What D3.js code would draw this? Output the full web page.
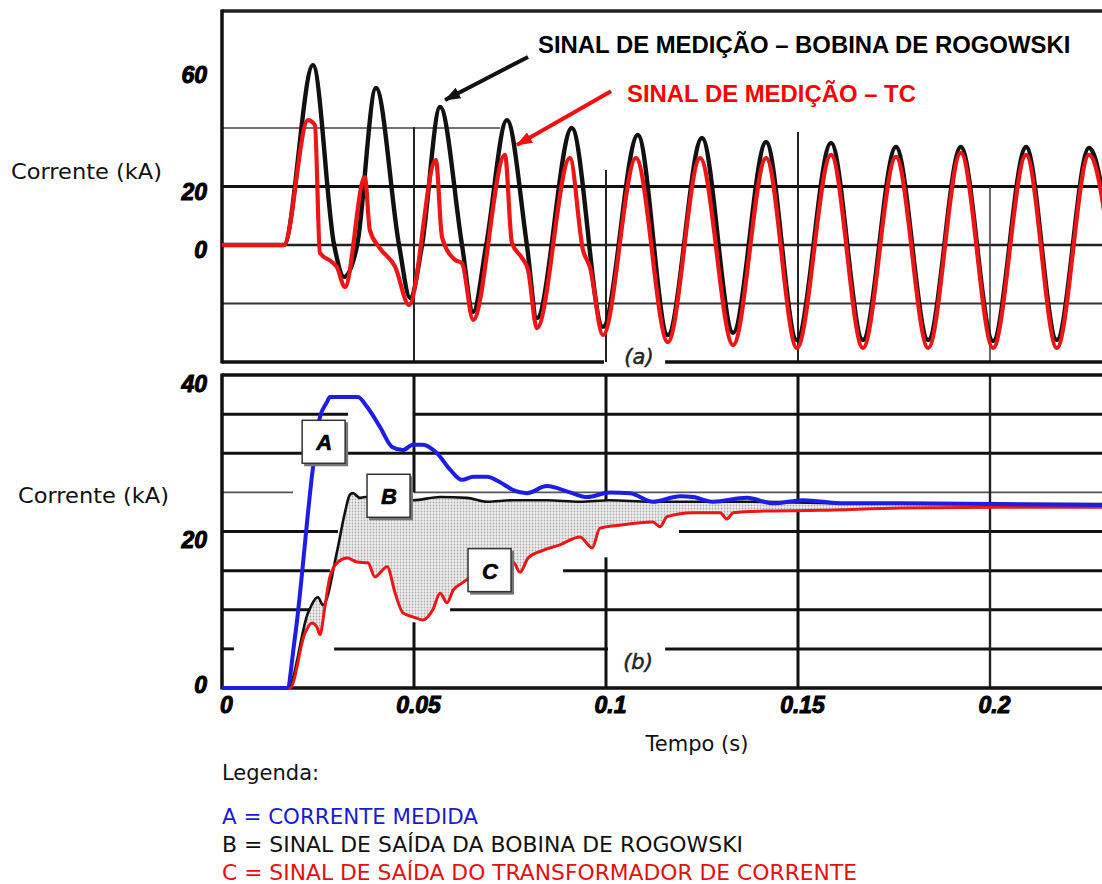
<!DOCTYPE html>
<meta charset="utf-8">
<style>

body {
  margin: 0;
  background: #fff;
}

.tick text {
  font: italic bold 23px "Liberation Sans", sans-serif;
  fill: #000;
  stroke: #000;
  stroke-width: 1px;
}

.title {
  font: 21px "DejaVu Sans", sans-serif;
  fill: #111;
}

.note {
  font: bold 23.9px "Liberation Sans", sans-serif;
}

.panel-tag {
  font: italic 21px "DejaVu Sans", sans-serif;
  fill: #222;
  stroke: #222;
  stroke-width: 0.5px;
}

.box-label {
  font: italic bold 22px "Liberation Sans", sans-serif;
  text-anchor: middle;
  stroke: #000;
  stroke-width: 0.6px;
}

</style>
<body>
<script src="https://cdn.jsdelivr.net/npm/d3@7"></script>
<script>

// (a) sinal de medição, kA vs s
var rogowskiTop = [
  [0, 0], [0.0161, 0], [0.0237, 61.5], [0.0292, 0], [0.0318, -10.9], [0.0352, 0],
  [0.0401, 53.7], [0.0461, 0], [0.0490, -18.1], [0.0521, 0], [0.0568, 47.2], [0.0625, 0],
  [0.0654, -22.9], [0.0688, 0], [0.0742, 42.7], [0.0794, 0], [0.0820, -25], [0.0911, 40],
  [0.0992, -28], [0.1083, 37.6], [0.1161, -30.8], [0.1250, 36.6], [0.1331, -30],
  [0.1417, 35.2], [0.1497, -32.5], [0.1586, 34.9], [0.1669, -32.5], [0.1755, 33.5],
  [0.1839, -32.5], [0.1924, 33.5], [0.2008, -32.8], [0.2094, 33.5], [0.2174, -32.5],
  [0.2258, 33.2], [0.2339, -32.5]
];

var tcTop = [
  [0, 0], [0.0161, 0], [0.0224, 42.7], [0.0242, 41], [0.0255, -2.7], [0.0286, -5.8],
  [0.0299, -7.5], [0.0320, -14.4], [0.0372, 23.2], [0.0385, 5.1], [0.0409, -0.7],
  [0.0451, -7.5], [0.0487, -20.5], [0.0557, 29], [0.0573, 2.7], [0.0607, -5.1],
  [0.0625, -6.2], [0.0654, -25.6], [0.0737, 30.8], [0.0755, 0.7], [0.0781, -4.4],
  [0.0797, -8.5], [0.0820, -28.4], [0.0906, 29.7], [0.0940, -1.7], [0.0958, -7.5],
  [0.0992, -30.8], [0.1078, 29.7], [0.1161, -33.2], [0.1245, 29.7], [0.1331, -34.2],
  [0.1417, 29.7], [0.1497, -35.2], [0.1586, 30.8], [0.1669, -35.2], [0.1755, 30.1],
  [0.1839, -35.2], [0.1924, 31.5], [0.2008, -35.2], [0.2094, 30.8], [0.2174, -35.2],
  [0.2258, 30.8], [0.2339, -35]
];

// (b) valores eficazes
var medidaBottom = [
  [0, 0], [0.0169, 0], [0.0190, 6.5], [0.0237, 28.2], [0.0255, 34.6], [0.0273, 36.5],
  [0.0281, 37.2], [0.0354, 37.2], [0.0378, 35.9], [0.0411, 33.4], [0.0443, 30.8],
  [0.0471, 30.4], [0.0497, 31.1], [0.0523, 31.1], [0.0560, 30.0], [0.0594, 27.9],
  [0.0625, 26.6], [0.0654, 27.0], [0.0690, 27.0], [0.0724, 26.3], [0.0758, 25.3],
  [0.0794, 24.9], [0.0846, 25.8], [0.0906, 25.0], [0.0951, 24.4], [0.1010, 25.0],
  [0.1063, 24.9], [0.1122, 23.8], [0.1193, 24.5], [0.1227, 24.4], [0.1279, 23.8],
  [0.1367, 24.3], [0.1435, 23.6], [0.1513, 24.0], [0.1620, 23.6], [0.1766, 23.6],
  [0.2026, 23.5], [0.2292, 23.4]
];

var rogowskiBottom = [
  [0, 0], [0.0172, 0], [0.0224, 9.6], [0.0250, 11.6], [0.0263, 10.6], [0.0299, 17.3],
  [0.0320, 22.4], [0.0333, 24.7], [0.0341, 24.9], [0.0359, 24.3], [0.0372, 24.4],
  [0.0497, 24.0], [0.0568, 24.4], [0.0638, 24.3], [0.0690, 23.8], [0.0758, 24.0],
  [0.0846, 24.0], [0.0932, 23.8], [0.1010, 24.0], [0.1115, 23.8], [0.1375, 23.8],
  [0.1635, 23.6], [0.2026, 23.5], [0.2292, 23.5]
];

var tcBottom = [
  [0, 0], [0.0177, 0], [0.0216, 7.0], [0.0234, 8.3], [0.0247, 7.8], [0.0255, 6.8],
  [0.0268, 10.4], [0.0281, 14.2], [0.0302, 16.1], [0.0326, 16.6], [0.0352, 16.1],
  [0.0380, 16.0], [0.0398, 14.2], [0.0430, 15.5], [0.0451, 12.1], [0.0471, 9.6],
  [0.0497, 9.1], [0.0523, 8.7], [0.0549, 10.0], [0.0568, 12.1], [0.0586, 10.9],
  [0.0602, 12.5], [0.0625, 13.4], [0.0758, 16.1], [0.0776, 14.8], [0.0797, 16.6],
  [0.0836, 17.6], [0.0880, 18.3], [0.0932, 19.3], [0.0964, 17.9], [0.0984, 20.4],
  [0.1036, 20.8], [0.1122, 21.2], [0.1141, 20.6], [0.1159, 21.9], [0.1227, 22.4],
  [0.1297, 22.4], [0.1315, 21.6], [0.1331, 22.4], [0.1401, 22.6], [0.1557, 22.7],
  [0.1766, 23.0], [0.2026, 23.1], [0.2292, 23.1]
];

var yTicksTop = [0, 20, 60];
var yTicksBottom = [0, 20, 40];
var xTicks = [0, 0.05, 0.1, 0.15, 0.2];
var xTickLabels = ["0", "0.05", "0.1", "0.15", "0.2"];

var legendLabels = [
  "A = CORRENTE MEDIDA",
  "B = SINAL DE SAÍDA DA BOBINA DE ROGOWSKI",
  "C = SINAL DE SAÍDA DO TRANSFORMADOR DE CORRENTE"
];
var boxLetters = ["A", "B", "C"];

var blue = "#1d1de6",
    red = "#ec1616",
    black = "#111";

var x = d3.scaleLinear().domain([0, 0.25]).range([222, 1182]);
var yTop = d3.scaleLinear().domain([-40, 80]).range([362, 11]);
var yBot = d3.scaleLinear().domain([0, 40]).range([688, 375]);

var svg = d3.select("body").append("svg")
    .attr("width", 1102)
    .attr("height", 884);

var defs = svg.append("defs");

var dots = defs.append("pattern")
    .attr("id", "dots")
    .attr("width", 3)
    .attr("height", 3)
    .attr("patternUnits", "userSpaceOnUse");
dots.append("rect").attr("width", 3).attr("height", 3).attr("fill", "#eeeeee");
dots.append("circle").attr("cx", 1.5).attr("cy", 1.5).attr("r", 0.9).attr("fill", "#acacac");

[["arrowBlack", black], ["arrowRed", "#f01010"]].forEach(function(m) {
  defs.append("marker")
      .attr("id", m[0])
      .attr("markerUnits", "userSpaceOnUse")
      .attr("viewBox", "0 0 16 12")
      .attr("refX", 15)
      .attr("refY", 6)
      .attr("markerWidth", 16)
      .attr("markerHeight", 12)
      .attr("orient", "auto")
    .append("path")
      .attr("d", "M0,0L16,6L0,12Z")
      .attr("fill", m[1]);
});

// ---------- grid ----------
var grid = svg.append("g").attr("stroke-linecap", "butt");

function hline(scale, v, segs, w, c) {
  segs.forEach(function(s) {
    grid.append("line")
        .attr("x1", x(s[0])).attr("x2", x(s[1]))
        .attr("y1", scale(v)).attr("y2", scale(v))
        .attr("stroke", c).attr("stroke-width", w);
  });
}

function vline(scale, t, segs, w, c) {
  segs.forEach(function(s) {
    grid.append("line")
        .attr("x1", x(t)).attr("x2", x(t))
        .attr("y1", scale(s[0])).attr("y2", scale(s[1]))
        .attr("stroke", c).attr("stroke-width", w);
  });
}

var full = [[0, 0.25]];

// top panel
hline(yTop, 40, [[0, 0.0724]], 1.6, "#444");
hline(yTop, 20, full, 3.2, black);
hline(yTop, 0, full, 2.4, "#222");
hline(yTop, -20, full, 1.8, "#333");
vline(yTop, 0.05, [[-40, 40.3]], 2, "#222");
vline(yTop, 0.1, [[-40, 25.6]], 2, "#222");
vline(yTop, 0.15, [[-40, 38.6]], 2, "#222");
vline(yTop, 0.2, [[-40, 19.8]], 1.6, "#444");
hline(yTop, 80, full, 3.5, "#222");
hline(yTop, -40, [[0, 0.0995], [0.1154, 0.25]], 3.5, "#111");

// bottom panel
hline(yBot, 35, [[0, 0.0328], [0.0497, 0.25]], 3, black);
hline(yBot, 30, full, 3, black);
hline(yBot, 25, [[0, 0.0185], [0.05, 0.25]], 1.6, "#555");
hline(yBot, 20, [[0, 0.0302], [0.119, 0.25]], 3, black);
hline(yBot, 15, [[0, 0.0281], [0.0888, 0.25]], 3, black);
hline(yBot, 10, [[0, 0.0242], [0.0594, 0.25]], 3, black);
hline(yBot, 5, [[0, 0.0031], [0.0292, 0.1005], [0.1154, 0.25]], 3, black);
vline(yBot, 0.05, [[25, 40], [0, 8.4]], 3, black);
vline(yBot, 0.1, [[23.6, 40], [0, 16.7]], 3, black);
vline(yBot, 0.15, [[0, 40]], 3, black);
vline(yBot, 0.2, [[0, 40]], 2.4, "#222");
hline(yBot, 40, full, 3.5, "#111");
hline(yBot, 0, full, 3.5, "#111");

// frames on the left
grid.append("line").attr("x1", 222).attr("x2", 222)
    .attr("y1", yTop(80) - 1.5).attr("y2", yTop(-40) + 1.5)
    .attr("stroke", "#111").attr("stroke-width", 3.5);
grid.append("line").attr("x1", 222).attr("x2", 222)
    .attr("y1", yBot(40) - 1.5).attr("y2", yBot(0) + 1.5)
    .attr("stroke", "#111").attr("stroke-width", 3.5);

// ---------- curves ----------
var lineTop = d3.line()
    .x(function(d) { return x(d[0]); })
    .y(function(d) { return yTop(d[1]); })
    .curve(d3.curveMonotoneX);

var lineBot = d3.line()
    .x(function(d) { return x(d[0]); })
    .y(function(d) { return yBot(d[1]); })
    .curve(d3.curveMonotoneX);

svg.append("path")
    .attr("d", lineTop(rogowskiTop))
    .attr("fill", "none").attr("stroke", black).attr("stroke-width", 4.4)
    .attr("stroke-linejoin", "round");

svg.append("path")
    .attr("d", lineTop(tcTop))
    .attr("fill", "none").attr("stroke", red).attr("stroke-width", 4.2)
    .attr("stroke-linejoin", "round");

// shaded region between B and C
var between = rogowskiBottom.filter(function(d) { return d[0] >= 0.0172; })
    .concat(tcBottom.filter(function(d) { return d[0] >= 0.0177; }).reverse());

svg.append("path")
    .attr("d", d3.line()
        .x(function(d) { return x(d[0]); })
        .y(function(d) { return yBot(d[1]); })
        .curve(d3.curveLinearClosed)(between))
    .attr("fill", "url(#dots)");

svg.append("path")
    .attr("d", lineBot(rogowskiBottom))
    .attr("fill", "none").attr("stroke", black).attr("stroke-width", 2.6)
    .attr("stroke-linejoin", "round");

svg.append("path")
    .attr("d", lineBot(tcBottom))
    .attr("fill", "none").attr("stroke", red).attr("stroke-width", 3)
    .attr("stroke-linejoin", "round");

svg.append("path")
    .attr("d", lineBot(medidaBottom))
    .attr("fill", "none").attr("stroke", blue).attr("stroke-width", 4)
    .attr("stroke-linejoin", "round");

// A, B, C boxes
var boxAt = [[0.0266, 31.4], [0.0435, 24.5], [0.0698, 15.0]];
var box = svg.selectAll(".lbox")
    .data(boxLetters)
  .enter().append("g")
    .attr("class", "lbox")
    .attr("transform", function(d, i) {
      return "translate(" + x(boxAt[i][0]) + "," + yBot(boxAt[i][1]) + ")";
    });

box.append("rect")
    .attr("x", -20).attr("y", -20).attr("width", 44).attr("height", 44)
    .attr("fill", "#777");
box.append("rect")
    .attr("x", -22).attr("y", -22).attr("width", 43).attr("height", 43)
    .attr("fill", "#fff").attr("stroke", "#333").attr("stroke-width", 1.5);
box.append("text")
    .attr("class", "box-label")
    .attr("x", 0).attr("y", 8)
    .text(function(d) { return d; });

// ---------- axes ----------
function styleAxis(g) {
  g.select(".domain").remove();
  g.selectAll(".tick line").remove();
}

svg.append("g")
    .attr("transform", "translate(207,0)")
    .call(d3.axisLeft(yTop).tickValues(yTicksTop).tickSize(0).tickPadding(0))
    .call(styleAxis)
    .selectAll("text").attr("dy", "0.56em");

svg.append("g")
    .attr("transform", "translate(207,0)")
    .call(d3.axisLeft(yBot).tickValues(yTicksBottom).tickSize(0).tickPadding(0))
    .call(styleAxis)
    .selectAll("text").attr("dy", function(d) { return d === 0 ? "0.2em" : "0.7em"; });

svg.append("g")
    .attr("transform", "translate(4,697)")
    .call(d3.axisBottom(x).tickValues(xTicks).tickSize(0).tickPadding(0)
        .tickFormat(function(d, i) { return xTickLabels[i]; }))
    .call(styleAxis)
    .selectAll("text").attr("dy", "0.68em");

svg.append("text").attr("class", "title")
    .attr("x", 11).attr("y", 179)
    .attr("textLength", 151).attr("lengthAdjust", "spacingAndGlyphs")
    .text("Corrente (kA)");

svg.append("text").attr("class", "title")
    .attr("x", 18).attr("y", 503)
    .attr("textLength", 151).attr("lengthAdjust", "spacingAndGlyphs")
    .text("Corrente (kA)");

svg.append("text").attr("class", "title")
    .attr("x", 697).attr("y", 751)
    .attr("text-anchor", "middle")
    .text("Tempo (s)");

svg.append("text").attr("class", "panel-tag")
    .attr("x", 639).attr("y", 364).attr("text-anchor", "middle")
    .text("(a)");

svg.append("text").attr("class", "panel-tag")
    .attr("x", 638).attr("y", 669).attr("text-anchor", "middle")
    .text("(b)");

// ---------- annotations on (a) ----------
svg.append("line")
    .attr("x1", x(0.0797)).attr("y1", yTop(64.3))
    .attr("x2", x(0.0581)).attr("y2", yTop(49.6))
    .attr("stroke", black).attr("stroke-width", 4)
    .attr("marker-end", "url(#arrowBlack)");

svg.append("line")
    .attr("x1", x(0.1013)).attr("y1", yTop(52.6))
    .attr("x2", x(0.0768)).attr("y2", yTop(34.2))
    .attr("stroke", "#f01010").attr("stroke-width", 4)
    .attr("marker-end", "url(#arrowRed)");

svg.append("text").attr("class", "note")
    .attr("x", 538).attr("y", 53)
    .attr("fill", "#000")
    .text("SINAL DE MEDIÇÃO – BOBINA DE ROGOWSKI");

svg.append("text").attr("class", "note")
    .attr("x", 627).attr("y", 102)
    .attr("fill", "#f00")
    .text("SINAL DE MEDIÇÃO – TC");

// ---------- legend ----------
svg.append("text").attr("class", "title")
    .attr("x", 222).attr("y", 780)
    .text("Legenda:");

var legendWidths = [256, 521, 635];
var legendColors = ["#1a1ad6", "#111", "#e41010"];

svg.selectAll(".legend")
    .data(legendLabels)
  .enter().append("text")
    .attr("class", "title legend")
    .attr("x", 222)
    .attr("y", function(d, i) { return 824 + i * 28; })
    .style("fill", function(d, i) { return legendColors[i]; })
    .attr("textLength", function(d, i) { return legendWidths[i]; })
    .attr("lengthAdjust", "spacingAndGlyphs")
    .text(function(d) { return d; });

</script>
</body>
